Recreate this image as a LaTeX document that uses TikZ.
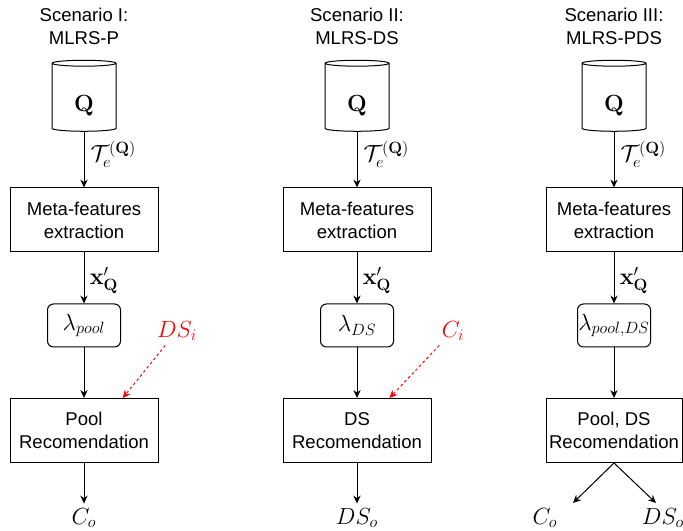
\documentclass[tikz,border=0pt]{standalone}
\usepackage{fix-cm}
\usepackage[no-math]{fontspec}
\newfontfamily\diafont{Liberation Sans}
\usetikzlibrary{shapes.geometric,arrows.meta}
\begin{document}
\begin{tikzpicture}[x=0.75pt,y=-0.75pt,
    every node/.style={font=\diafont\fontsize{13.9}{17.3}\selectfont},
    mth/.style={font=\fontsize{17.5}{21}\selectfont},
    box/.style={draw,line width=0.75pt,align=center,inner sep=0pt,minimum width=111pt,minimum height=48pt},
    lam/.style={draw,mth,line width=0.75pt,rounded corners=4.5pt,inner sep=0pt,minimum width=54.75pt,minimum height=32.25pt},
    db/.style={draw,mth,line width=0.75pt,cylinder,shape border rotate=90,aspect=0.3,inner sep=0pt,minimum width=48pt,minimum height=53.25pt},
    flow/.style={-{Stealth[length=6pt,width=5.5pt,inset=2pt]},line width=0.75pt},
    hint/.style={flow,red,dash pattern=on 2pt off 2pt}]
      \useasboundingbox (0,0) rectangle (683,531);
      \draw
        (84,26.5) node[align=center] (t1){Scenario I:\\MLRS-P}
        (357,26.5) node[align=center] (t2){Scenario II:\\MLRS-DS}
        (614,26.5) node[align=center] (t3){Scenario III:\\MLRS-PDS}
        (84,97.5) node[db] (q1){\raisebox{-6pt}[\height][\depth]{$\mathbf{Q}$}}
        (357,97.5) node[db] (q2){\raisebox{-6pt}[\height][\depth]{$\mathbf{Q}$}}
        (614,97.5) node[db] (q3){\raisebox{-6pt}[\height][\depth]{$\mathbf{Q}$}}
        (84,220) node[box] (m1){Meta-features\\extraction}
        (357,220) node[box] (m2){Meta-features\\extraction}
        (614,220) node[box,minimum width=102pt] (m3){Meta-features\\extraction}
        (84,325.5) node[lam] (l1){$\lambda_{pool}$}
        (357,325.5) node[lam] (l2){$\lambda_{DS}$}
        (614,325.5) node[lam] (l3){$\lambda_{pool,DS}$}
        (84,430.5) node[box] (r1){Pool\\Recomendation}
        (357,430.5) node[box] (r2){DS\\Recomendation}
        (614,430.5) node[box,minimum width=102pt] (r3){Pool, DS\\Recomendation}
        (84,518) node[mth] (o1){$C_o$}
        (357,518) node[mth] (o2){$DS_o$}
        (545,518) node[mth] (o3a){$C_o$}
        (663,518) node[mth] (o3b){$DS_o$}
        (177,331) node[mth,red] (i1){$DS_i$}
        (453,331) node[mth,red] (i2){$C_i$};
      \coordinate (e3a) at (573,503);
      \coordinate (e3b) at (656,503);
      \begin{scope}[flow]
        \draw (q1) to node[mth,right,pos=0.4,inner sep=4.5pt]{$\mathcal{T}_e^{(\mathbf{Q})}$} (m1);
        \draw (q2) to node[mth,right,pos=0.4,inner sep=4.5pt]{$\mathcal{T}_e^{(\mathbf{Q})}$} (m2);
        \draw (q3) to node[mth,right,pos=0.4,inner sep=4.5pt]{$\mathcal{T}_e^{(\mathbf{Q})}$} (m3);
        \draw (m1) to node[mth,right,pos=0.55,inner sep=4pt]{$\mathbf{x}'_{\mathbf{Q}}$} (l1);
        \draw (m2) to node[mth,right,pos=0.55,inner sep=4pt]{$\mathbf{x}'_{\mathbf{Q}}$} (l2);
        \draw (m3) to node[mth,right,pos=0.55,inner sep=4pt]{$\mathbf{x}'_{\mathbf{Q}}$} (l3);
        \draw (l1) to (r1);
        \draw (l2) to (r2);
        \draw (l3) to (r3);
        \draw (r1) to (o1);
        \draw (r2) to (o2);
        \draw (r3.south) to (e3a);
        \draw (r3.south) to (e3b);
        \draw[hint] (i1) to (r1.40);
        \draw[hint] (i2) to (r2.45);
      \end{scope}
    \end{tikzpicture}
\end{document}
